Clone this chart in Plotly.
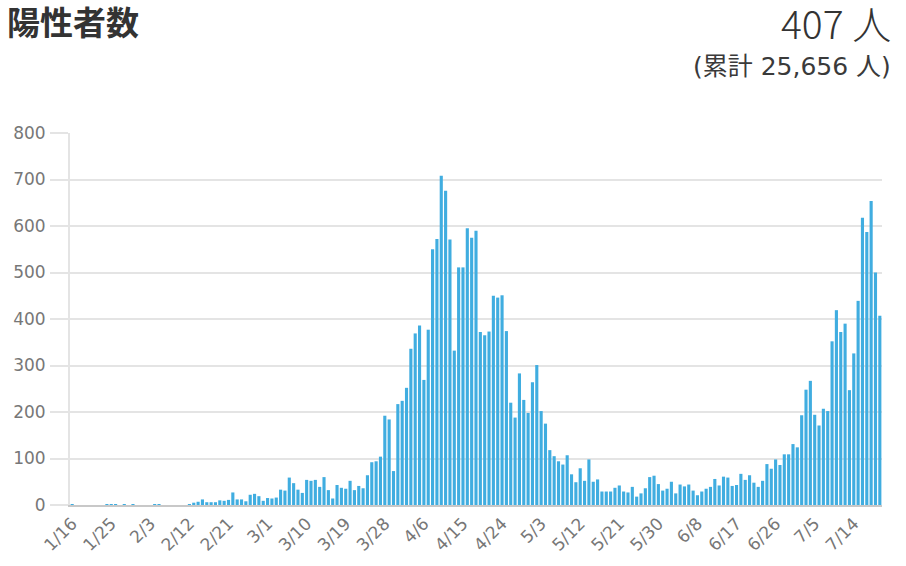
import pandas as pd
import plotly.graph_objects as go

# ---- data ----
dates = [f"{d.month}/{d.day}" for d in pd.date_range("2020-01-16", "2020-07-20")]
values = [
    1, 0, 0, 0, 0, 0, 0, 0, 1, 1, 1, 0, 2, 0, 2, 0, 0, 0, 0, 1,
    1, 0, 0, 0, 0, 0, 0, 1, 5, 7, 12, 6, 6, 6, 10, 9, 11, 27, 12, 12,
    8, 22, 24, 19, 9, 15, 14, 16, 33, 31, 59, 47, 33, 26, 54, 52, 54, 39, 60, 32,
    14, 43, 37, 35, 52, 32, 41, 36, 64, 92, 94, 104, 192, 184, 73, 217, 224, 252, 336, 369,
    386, 269, 377, 550, 572, 708, 676, 571, 332, 511, 511, 595, 575, 590, 372, 365, 373, 450, 446, 451,
    374, 220, 188, 283, 226, 198, 264, 301, 202, 175, 118, 105, 94, 87, 107, 66, 49, 79, 52, 98,
    50, 55, 29, 29, 29, 37, 42, 29, 27, 39, 18, 25, 36, 60, 63, 45, 31, 35, 50, 25,
    44, 40, 44, 31, 21, 29, 35, 39, 56, 42, 61, 59, 41, 43, 67, 54, 64, 48, 39, 52,
    88, 78, 98, 86, 109, 109, 131, 124, 193, 248, 267, 194, 171, 207, 202, 352, 419, 372, 390, 247,
    326, 439, 618, 587, 654, 500, 407,
]
tick_labels = ["1/16", "1/25", "2/3", "2/12", "2/21", "3/1", "3/10", "3/19", "3/28", "4/6",
               "4/15", "4/24", "5/3", "5/12", "5/21", "5/30", "6/8", "6/17", "6/26", "7/5", "7/14"]
y_ticks = [0, 100, 200, 300, 400, 500, 600, 700, 800]
title_text = "陽性者数"
latest_text = "407 人"
total_text = "(累計 25,656 人)"

fig = go.Figure(go.Bar(
    x=dates, y=values,
    marker=dict(color="#40ade0", line=dict(width=0)),
))

W, H = 906, 566
L, R, T, B = 70, 24, 133, 61
ph = H - T - B
pw = W - L - R

def py(ypix):
    return (H - B - ypix) / ph

def px(xpix):
    return (xpix - L) / pw

tick_font = dict(family="DejaVu Sans", size=17, color="#777777")

fig.update_layout(
    width=W, height=H,
    margin=dict(l=L, r=R, t=T, b=B, pad=0),
    plot_bgcolor="white", paper_bgcolor="white",
    bargap=0.28,
    showlegend=False,
    font=dict(family="DejaVu Sans, Noto Sans CJK JP", color="#707070"),
    xaxis=dict(
        type="category", automargin=False,
        range=[-0.5, len(dates) - 0.5],
        tickmode="array", tickvals=tick_labels, ticktext=tick_labels,
        tickangle=-45, tickfont=tick_font,
        showgrid=False, showline=True, linecolor="#c8c8c8", linewidth=2,
        ticks="", zeroline=False,
    ),
    yaxis=dict(
        range=[0, 800], tickvals=y_ticks, automargin=False,
        tickfont=tick_font,
        showgrid=True, gridcolor="#e4e4e4", gridwidth=2,
        showline=True, linecolor="#e4e4e4", linewidth=2,
        zeroline=False, ticks="outside", ticklen=18, tickwidth=2, tickcolor="#e4e4e4",
        ticklabelstandoff=1,
    ),
    annotations=[
        dict(text=f"<b>{title_text}</b>", xref="paper", yref="paper",
             x=px(5), y=py(21), xanchor="left", yanchor="middle", showarrow=False,
             font=dict(family="Noto Sans CJK JP", size=33, color="#333333")),
        dict(text=latest_text, xref="paper", yref="paper",
             x=px(893), y=py(22), xanchor="right", yanchor="middle", showarrow=False,
             font=dict(family="Noto Sans CJK JP", size=39, color="#333333", weight=300)),
        dict(text=total_text, xref="paper", yref="paper",
             x=px(893), y=py(67), xanchor="right", yanchor="middle", showarrow=False,
             font=dict(family="DejaVu Sans, Noto Sans CJK JP", size=25, color="#3a3a3a")),
    ],
)

fig.write_html(
    "out.html",
    config={"displayModeBar": False},
    post_script="document.body.style.margin='0';document.body.style.overflow='hidden';",
)
